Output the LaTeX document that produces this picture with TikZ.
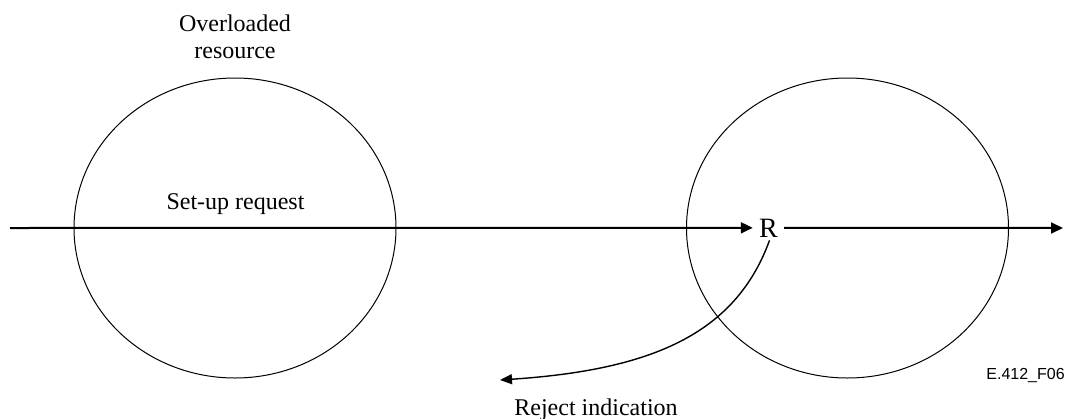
\documentclass[tikz,border=0pt]{standalone}
\usepackage{fontspec}
\setmainfont{Liberation Serif}
\newfontfamily\labelsans{Liberation Sans}
\usetikzlibrary{arrows.meta,shapes.geometric}
\tikzset{
  res/.style={draw, line width=0.5pt, ellipse, minimum width=161pt, minimum height=150pt, inner sep=0pt},
  flow/.style={line width=1pt, -{Triangle[length=6pt,width=5.5pt]}},
  back/.style={line width=0.7pt, -{Triangle[length=6pt,width=5pt]}},
  txt/.style={font=\fontsize{12pt}{13.5pt}\selectfont, inner sep=0pt},
}
\begin{document}
\begin{tikzpicture}[x=0.5pt,y=-0.5pt]
\useasboundingbox (0,0) rectangle (1066,418);
\node[res] (c1) at (235,228) {};
\node[res] (c2) at (847.5,228) {};
\coordinate (in) at (10,228);
\coordinate (out) at (1063,228);
\coordinate (rej) at (500,380);
\node[font=\fontsize{14pt}{16pt}\selectfont, inner sep=3pt, anchor=base] (R) at (768.5,237) {R};
\draw[flow] (in) -- (R.west);
\draw[flow] (R.east) -- (out);
\draw[back] ([xshift=0.5pt,yshift=1.5pt]R.south) .. controls (735,335) and (650,370) .. (rej);
\node[txt, anchor=north, align=center] (ol) at (235,14) {Overloaded\\resource};
\node[txt, anchor=base] (su) at (235.5,209) {Set-up request};
\node[txt, anchor=base] (ri) at (596,415) {Reject indication};
\node[font=\labelsans\fontsize{8pt}{9pt}\selectfont, inner sep=0pt, anchor=base west] (id) at (986,379) {E.412\_F06};
\end{tikzpicture}
\end{document}
